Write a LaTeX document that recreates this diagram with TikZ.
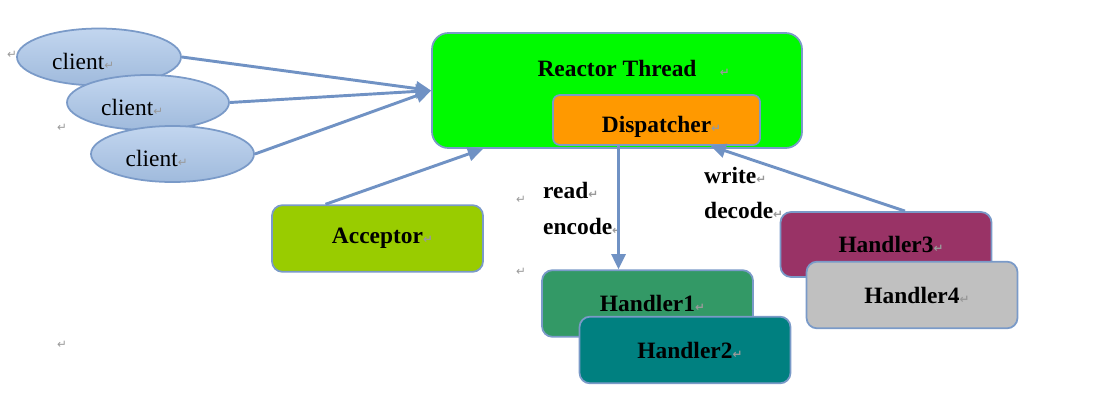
\documentclass[tikz,border=0pt]{standalone}
\usepackage{xcolor}
\usepackage{fontspec}
\setmainfont{Liberation Serif}
\newfontfamily\markfont{DejaVu Sans}
\usepackage{tikz}
\usetikzlibrary{shapes.geometric, arrows.meta, calc}
\definecolor{lineblue}{RGB}{122, 154, 200}
\definecolor{arrowblue}{RGB}{112, 146, 196}
\definecolor{clientfill}{RGB}{168, 196, 232}
\definecolor{reactorgreen}{RGB}{0, 250, 0}
\definecolor{disporange}{RGB}{255, 153, 0}
\definecolor{accgreen}{RGB}{153, 204, 0}
\definecolor{hdlgreen}{RGB}{51, 153, 102}
\definecolor{hdlteal}{RGB}{0, 128, 128}
\definecolor{hdlplum}{RGB}{153, 51, 102}
\definecolor{hdlgray}{RGB}{192, 192, 192}
\newcommand{\retmk}{{\markfont\fontsize{10}{10}\selectfont\color{black!40}\char"21B5}}

\begin{document}
\begin{tikzpicture}[
    x=0.03cm, y=-0.03cm,
    client/.style={
        ellipse,
        draw=lineblue,
        line width=1.5pt,
        top color=clientfill!70!white,
        bottom color=clientfill!95!black,
        inner sep=0pt,
        font=\fontsize{20}{24}\selectfont
    },
    box/.style={
        rectangle,
        draw=lineblue,
        line width=1.5pt,
        rounded corners=9pt,
        minimum width=6.33cm,
        minimum height=2cm,
        font=\fontsize{20}{24}\selectfont\bfseries,
        align=center
    },
    tag/.style={anchor=west, inner sep=0pt, font=\fontsize{20}{24}\selectfont\bfseries},
    mk/.style={inner sep=0pt},
    arr/.style={-{Triangle[length=13pt, width=12pt]}, line width=2.5pt, draw=arrowblue}
]
    \useasboundingbox (0,0) rectangle (1105,417);

    % Clients (stacked)
    \node[client, minimum width=4.92cm, minimum height=1.71cm] (cl1) at (99,57) {\raisebox{-4pt}[\height][\depth]{client\retmk}\rule{0.95cm}{0pt}};
    \node[client, minimum width=4.86cm, minimum height=1.65cm] (cl2) at (148,102.5) {\raisebox{-4pt}[\height][\depth]{client\retmk}\rule{0.95cm}{0pt}};
    \node[client, minimum width=4.89cm, minimum height=1.68cm] (cl3) at (172.5,154) {\raisebox{-4pt}[\height][\depth]{client\retmk}\rule{0.95cm}{0pt}};

    % Reactor with its dispatcher
    \node[box, fill=reactorgreen, rounded corners=14pt, minimum width=11.1cm, minimum height=3.45cm] (rt) at (617,90.5) {};
    \node[tag, anchor=center] (rtlbl) at (617,68) {Reactor Thread\rlap{\quad\retmk}};
    \node[box, fill=disporange, rounded corners=6pt, minimum width=6.21cm, minimum height=1.5cm] (dsp) at (656.5,120) {\raisebox{-0.22cm}[\height][\depth]{Dispatcher\rlap{\retmk}}};

    % Acceptor and handlers
    \node[box, fill=accgreen] (acc) at (377.5,238.5) {Acceptor\rlap{\retmk}};
    \node[box, fill=hdlgreen] (h1) at (647.5,303.5) {Handler1\rlap{\retmk}};
    \node[box, fill=hdlteal] (h2) at (685,350) {Handler2\rlap{\retmk}};
    \node[box, fill=hdlplum, minimum height=1.95cm] (h3) at (886,244.5) {Handler3\rlap{\retmk}};
    \node[box, fill=hdlgray] (h4) at (912,295) {Handler4\rlap{\retmk}};

    % Edge texts
    \node[tag] (rd) at (543,190) {read\retmk};
    \node[tag] (enc) at (543,226) {encode\retmk};
    \node[tag] (wr) at (704,175) {write\retmk};
    \node[tag] (dec) at (704,210) {decode\retmk};

    % Stray paragraph marks
    \foreach \p [count=\i] in {(12,55), (62,128), (521,200), (521,272), (62,345)}
        \node[mk] (pm\i) at \p {\retmk};

    % Connections
    \draw[arr] (cl1.east) -- (rt.west);
    \draw[arr] (cl2.east) -- (rt.west);
    \draw[arr] (cl3.east) -- (rt.west);
    \draw[arr] ($(acc.north)+(-52,0)$) -- ($(rt.south)+(-134,0)$);
    \draw[arr] ($(dsp.south)+(-38,0)$) coordinate (d0) -- (d0 |- h1.north);
    \draw[arr] ($(h3.north)+(19,0)$) -- ($(dsp.south)+(54,0)$);
\end{tikzpicture}
\end{document}
